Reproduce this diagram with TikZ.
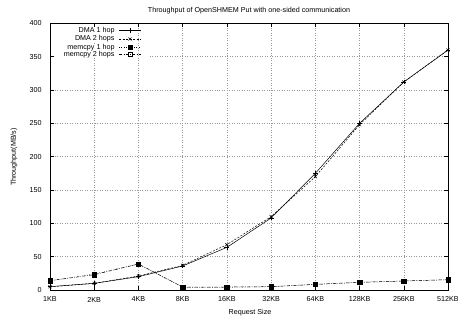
\documentclass[tikz,border=0pt]{standalone}
\usepackage{fontspec}
\setmainfont{Liberation Sans}
\usetikzlibrary{plotmarks}
\begin{document}
\begin{tikzpicture}[x=1bp,y=-1bp,
  lbl/.style={font=\fontsize{7.2}{8}\selectfont, inner sep=0.3pt},
  gridline/.style={gray!80, dotted, line width=0.5bp},
  tickline/.style={black, line width=0.5bp},
  dmaone/.style={black, line width=0.5bp, mark=+, mark size=2.4bp, mark options={solid}},
  dmatwo/.style={black, line width=0.5bp, dash pattern=on 2bp off 1.5bp, mark=x, mark size=2.2bp, mark options={solid}},
  memone/.style={black, line width=0.5bp, dotted, mark=square*, mark size=1.8bp, mark options={solid}},
  memtwo/.style={black, line width=0.5bp, dash pattern=on 3bp off 1.5bp on 0.6bp off 1.5bp, mark=square, mark size=2.2bp, mark options={solid}}]
\useasboundingbox (0,0) rectangle (458,320);
\fill[white] (0,0) rectangle (458,320);
\node[font=\fontsize{7.2}{8}\selectfont] (title) at (249,11) {Throughput of OpenSHMEM Put with one-sided communication};
\node[lbl, rotate=90] (ylabel) at (14,157) {Throughput(MB/s)};
\node[lbl] (xlabel) at (250,313) {Request Size};
\begin{scope}[shift={(50,290)}, x=44.2222bp, y=0.666667bp]
  % grid
  \foreach \i in {1,...,8} \draw[gridline] (\i,0) -- (\i,400);
  \foreach \v in {50,100,...,300} \draw[gridline] (0,\v) -- (9,\v);
  \draw[gridline] (2.26,350) -- (9,350);
  % ticks
  \foreach \v in {0,50,...,400} {
    \draw[tickline] (0,\v) -- ++(4bp,0);
    \draw[tickline] (9,\v) -- ++(-4bp,0);
    \node[lbl, anchor=east] at ([xshift=-8bp]0,\v) {\v};
  }
  \foreach \i/\t in {0/1KB,1/2KB,2/4KB,3/8KB,4/16KB,5/32KB,6/64KB,7/128KB,8/256KB,9/512KB} {
    \draw[tickline] (\i,0) -- ++(0,4bp);
    \draw[tickline] (\i,400) -- ++(0,-4bp);
    \node[lbl] at ([yshift=-9.5bp]\i,0) {\t};
  }
  % data
  \draw[memtwo] plot coordinates {(0,14) (1,23) (2,39) (3,4.5) (4,4.5) (5,5) (6,8.5) (7,11.5) (8,13.5) (9,15.5)};
  \draw[memone] plot coordinates {(0,14) (1,24) (2,39) (3,4) (4,4) (5,5) (6,8.5) (7,11.5) (8,13.5) (9,15.5)};
  \draw[dmatwo] plot coordinates {(0,5) (1,10) (2,21) (3,37) (4,68) (5,110) (6,170) (7,248) (8,312) (9,360)};
  \draw[dmaone] plot coordinates {(0,5) (1,10) (2,20) (3,36) (4,64) (5,108) (6,175) (7,250) (8,312) (9,360)};
  % frame
  \draw[black, line width=0.8bp] (0,0) rectangle (9,400);
\end{scope}
% legend
\foreach \y/\t/\s in {30.7/DMA 1 hop/dmaone, 39/DMA 2 hops/dmatwo, 47.3/memcpy 1 hop/memone, 54.5/memcpy 2 hops/memtwo} {
  \node[lbl, anchor=east, fill=white] at (115,\y) {\t};
  \draw[\s, mark=none] (119,\y) -- (141,\y);
  \draw[\s] plot coordinates {(130,\y)};
}
\end{tikzpicture}
\end{document}
